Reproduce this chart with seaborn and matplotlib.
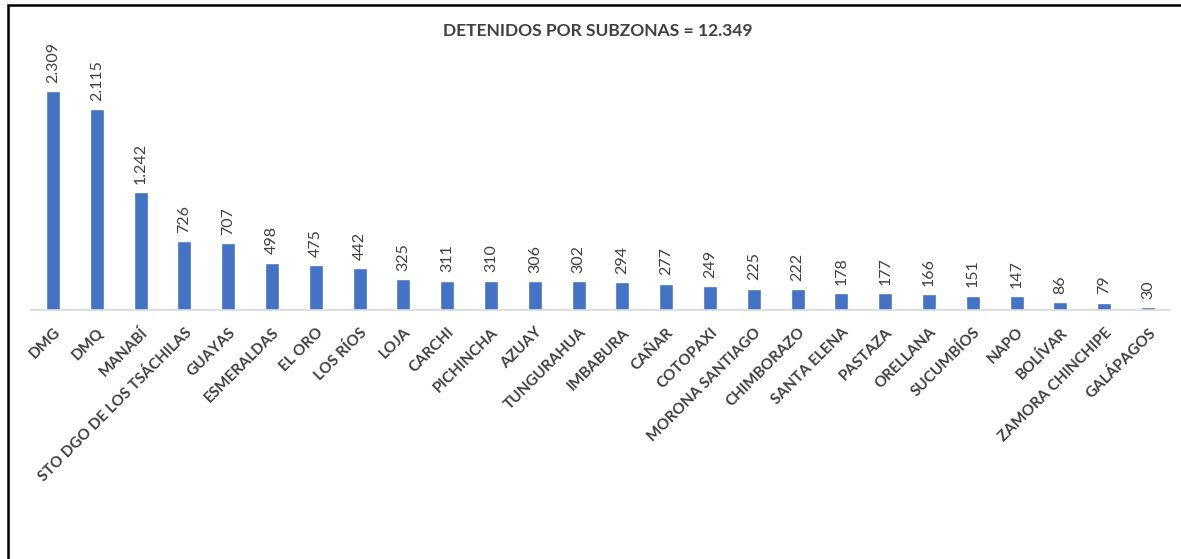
import matplotlib
matplotlib.use("Agg")
import matplotlib.pyplot as plt
import seaborn as sns
import pandas as pd
from matplotlib.patches import Rectangle

# Datos
subzonas = ["DMG", "DMQ", "MANABÍ", "STO DGO DE LOS TSÁCHILAS", "GUAYAS", "ESMERALDAS",
            "EL ORO", "LOS RÍOS", "LOJA", "CARCHI", "PICHINCHA", "AZUAY", "TUNGURAHUA",
            "IMBABURA", "CAÑAR", "COTOPAXI", "MORONA SANTIAGO", "CHIMBORAZO", "SANTA ELENA",
            "PASTAZA", "ORELLANA", "SUCUMBÍOS", "NAPO", "BOLÍVAR", "ZAMORA CHINCHIPE", "GALÁPAGOS"]
detenidos = [2309, 2115, 1242, 726, 707, 498, 475, 442, 325, 311, 310, 306, 302,
             294, 277, 249, 225, 222, 178, 177, 166, 151, 147, 86, 79, 30]
titulo = "DETENIDOS POR SUBZONAS = 12.349"

df = pd.DataFrame({"subzona": subzonas, "detenidos": detenidos})

sns.set_style("white")
plt.rcParams["font.family"] = ["Lato", "DejaVu Sans"]

fig = plt.figure(figsize=(11.81, 5.59), dpi=100)
W, H = 1181, 559
ax = fig.add_axes([31 / W, 1 - 310 / H, (1170 - 31) / W, 250 / H])

sns.barplot(data=df, x="subzona", y="detenidos", color="#4472C4", width=0.32,
            saturation=1, ax=ax)
ax.set_ylim(0, 250 / 0.0948)
ax.set_xlim(-0.5, len(subzonas) - 0.5)

etiquetas = [f"{v:,}".replace(",", ".") for v in detenidos]
ax.bar_label(ax.containers[0], labels=etiquetas, rotation=90, padding=6,
             fontsize=11.5, color="#404040")

for s in ["top", "right", "left"]:
    ax.spines[s].set_visible(False)
ax.spines["bottom"].set_color("#D9D9D9")
ax.spines["bottom"].set_linewidth(1.2)
ax.set_yticks([])
ax.set_xlabel("")
ax.set_ylabel("")
ax.tick_params(axis="x", length=0, pad=11)
plt.setp(ax.get_xticklabels(), rotation=45, ha="right", rotation_mode="anchor",
         fontsize=11, fontweight="bold", color="#404040")

fig.text(598 / W, 1 - 31 / H, titulo, ha="center", va="center", fontsize=12.5,
         fontweight="bold", color="#404040")

# Marco
fig.patches.append(Rectangle((8 / W, -0.1), 1.2, 1 - 5 / H + 0.1, transform=fig.transFigure,
                             fill=False, edgecolor="black", linewidth=1.8))

fig.savefig("out.png", dpi=100)
